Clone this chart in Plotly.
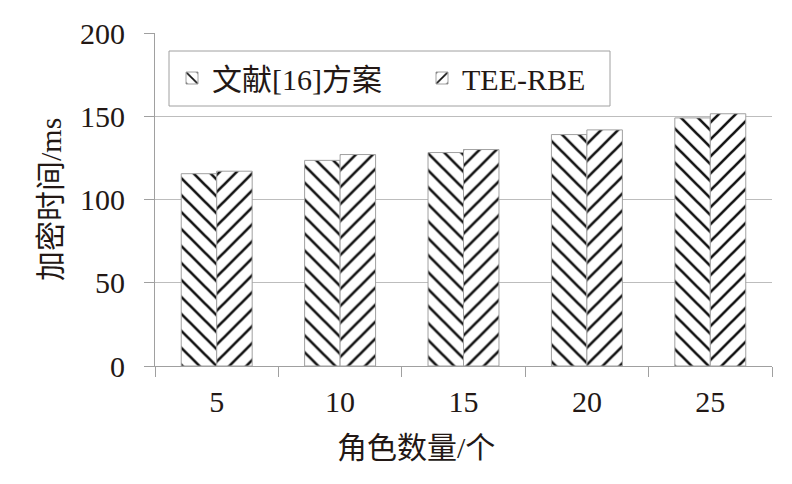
import plotly.graph_objects as go

categories = ["5", "10", "15", "20", "25"]
series_names = ["文献[16]方案", "TEE-RBE"]
ref16_values = [115.5, 123.5, 128.2, 139.0, 149.0]
tee_rbe_values = [117.0, 127.0, 130.0, 141.8, 151.5]
y_ticks = [0, 50, 100, 150, 200]
x_title = "角色数量/个"
y_title = "加密时间/ms"

FONT = "Liberation Serif, Times New Roman, Noto Sans CJK SC, serif"
TXT = "#231815"
EDGE = "#a0a0a0"

W, H = 792, 484
L, R, T, B = 155, 20, 33, 118
PW, PH = W - L - R, H - T - B


def px_x(x):
    return (x - L) / PW


def px_y(y):
    return (H - B - y) / PH


fig = go.Figure()
for i, (name, vals, shape) in enumerate([(series_names[0], ref16_values, "\\"),
                                         (series_names[1], tee_rbe_values, "/")]):
    fig.add_trace(go.Bar(
        x=categories, y=vals, name=name,
        legend="legend" if i == 0 else "legend2",
        marker=dict(color="white", line=dict(color=EDGE, width=1),
                    pattern=dict(shape=shape, fgcolor="#111111", bgcolor="white",
                                 fgopacity=1, size=12, solidity=0.22,
                                 fillmode="replace")),
    ))

leg_common = dict(
    orientation="h", xanchor="left", yanchor="middle",
    borderwidth=0, bgcolor="rgba(0,0,0,0)",
    font=dict(family=FONT, size=30, color=TXT),
    itemwidth=30,
)

fig.update_layout(
    width=W, height=H,
    margin=dict(l=L, r=R, t=T, b=B),
    paper_bgcolor="white", plot_bgcolor="white",
    barmode="group", bargap=0.425, bargroupgap=0,
    font=dict(family=FONT, size=30, color=TXT),
    showlegend=True,
    legend=dict(x=px_x(172), y=px_y(78), **leg_common),
    legend2=dict(x=px_x(422), y=px_y(78), **leg_common),
    xaxis=dict(
        type="category", showline=True, linecolor=EDGE, linewidth=1,
        ticks="outside", tickson="boundaries", ticklen=10, tickcolor=EDGE,
        showgrid=False, automargin=False, ticklabelstandoff=9,
        tickfont=dict(family=FONT, size=30, color=TXT),
    ),
    yaxis=dict(
        range=[0, 200], tickvals=y_ticks, showline=True, linecolor=EDGE,
        linewidth=1, ticks="outside", ticklen=10, tickcolor=EDGE,
        showgrid=True, gridcolor="#bdbdbd", gridwidth=1, zeroline=False,
        automargin=False, ticklabelstandoff=13,
        tickfont=dict(family=FONT, size=30, color=TXT),
    ),
    shapes=[
        dict(type="rect", xref="paper", yref="paper",
             x0=px_x(169), x1=px_x(610), y0=px_y(106), y1=px_y(51),
             line=dict(color=EDGE, width=1), fillcolor="white", layer="below"),
    ],
    annotations=[
        dict(text=x_title, xref="paper", yref="paper", x=px_x(416), y=px_y(447),
             xanchor="center", yanchor="middle", showarrow=False,
             font=dict(family=FONT, size=30, color=TXT)),
        dict(text=y_title, xref="paper", yref="paper", x=px_x(50), y=px_y(199),
             xanchor="center", yanchor="middle", showarrow=False, textangle=-90,
             font=dict(family=FONT, size=30, color=TXT)),
    ],
)

fig.write_html("out.html", config={"displayModeBar": False},
               post_script="document.body.style.margin='0';document.body.style.padding='0';")
